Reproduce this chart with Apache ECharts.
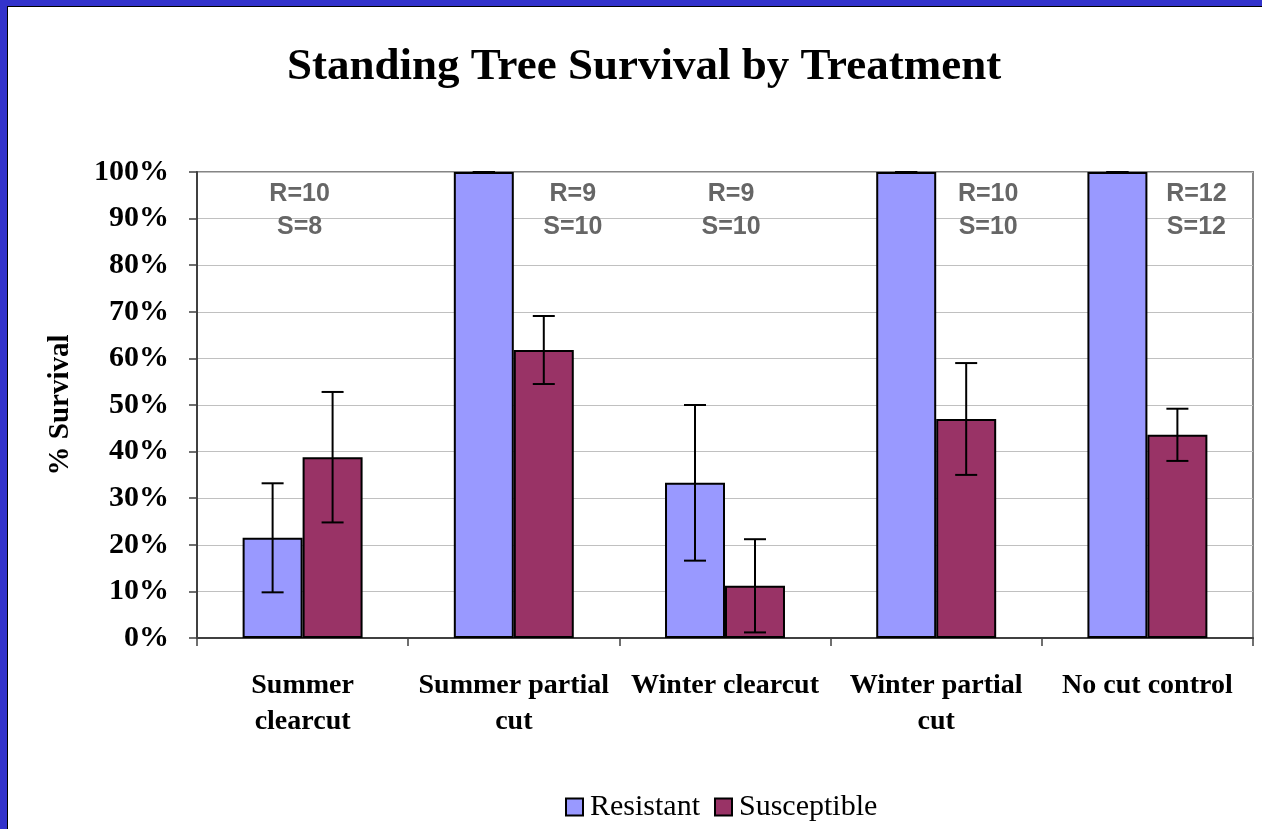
<!DOCTYPE html>
<html>
<head>
<meta charset="utf-8">
<script src="https://cdn.jsdelivr.net/npm/echarts@6/dist/echarts.min.js"></script>
<style>
  html, body { margin: 0; padding: 0; background: #3333CC; width: 1262px; height: 829px; overflow: hidden; }
  #chart { position: absolute; left: 7px; top: 6px; width: 1254px; height: 822px; background: #fff; border-left: 1px solid #000; border-top: 1px solid #000; }
</style>
</head>
<body>
<div id="chart"></div>
<script>
// ---- data ----
const categories = ['Summer\nclearcut', 'Summer partial\ncut', 'Winter clearcut', 'Winter partial\ncut', 'No cut control'];
const resistant = [21.5, 100, 33.3, 100, 100];
const resistantErr = [11.7, 0, 16.7, 0, 0];
const susceptible = [38.8, 61.8, 11.2, 47.0, 43.6];
const susceptibleErr = [14.0, 7.3, 10.0, 12.0, 5.6];
const sampleR = [10, 9, 9, 10, 12];
const sampleS = [8, 10, 10, 10, 12];
const yTicks = [0, 10, 20, 30, 40, 50, 60, 70, 80, 90, 100];

// ---- layout ----
const BAR_FRAC = 0.284;              // bar width as fraction of category band
const ANN_Y = 91.8;                  // annotation anchor (value units)
const ANN_DX = [-3, 59, 6, 52, 49];  // annotation horizontal offsets (px)

const chart = echarts.init(document.getElementById('chart'));

function errRenderer(side) {
  return function (params, api) {
    const x = api.value(0), v = api.value(1), e = api.value(2);
    const band = api.size([1, 0])[0];
    const bw = band * BAR_FRAC;
    const off = side * bw / 2;
    const top = api.coord([x, v + e]);
    const bot = api.coord([x, v - e]);
    const cx = top[0] + off;
    const cap = 11;
    const st = { stroke: '#000', lineWidth: 2 };
    return {
      type: 'group',
      children: [
        { type: 'line', shape: { x1: cx, y1: top[1], x2: cx, y2: bot[1] }, style: st },
        { type: 'line', shape: { x1: cx - cap, y1: top[1], x2: cx + cap, y2: top[1] }, style: st },
        { type: 'line', shape: { x1: cx - cap, y1: bot[1], x2: cx + cap, y2: bot[1] }, style: st }
      ]
    };
  };
}

const serif = 'Liberation Serif, Times New Roman, serif';

chart.setOption({
  animation: false,
  backgroundColor: '#fff',
  title: {
    text: 'Standing Tree Survival by Treatment',
    left: 274,
    top: 33,
    textStyle: { fontFamily: serif, fontWeight: 'bold', fontSize: 45, color: '#000' }
  },
  legend: {
    data: ['Resistant', 'Susceptible'],
    left: 552,
    top: 780,
    icon: 'rect',
    itemWidth: 17,
    itemHeight: 17,
    itemGap: 14,
    itemStyle: { borderColor: '#000', borderWidth: 2 },
    textStyle: { fontFamily: serif, fontSize: 30, color: '#000', padding: [0, 0, 0, 2] }
  },
  grid: {
    left: 189, right: 9, top: 165, bottom: 191,
    show: true, borderColor: '#858585', borderWidth: 2, backgroundColor: 'transparent'
  },
  xAxis: {
    type: 'category',
    data: categories,
    axisLine: { lineStyle: { color: '#404040', width: 2 } },
    axisTick: { show: true, length: 8, lineStyle: { color: '#404040', width: 1.5 } },
    axisLabel: {
      interval: 0, margin: 30, color: '#000',
      fontFamily: serif, fontWeight: 'bold', fontSize: 28, lineHeight: 36
    }
  },
  yAxis: {
    type: 'value',
    min: 0, max: 100, interval: 10,
    name: '% Survival',
    nameLocation: 'middle',
    nameGap: 122,
    nameRotate: 90,
    nameTextStyle: { fontFamily: serif, fontWeight: 'bold', fontSize: 29, color: '#000' },
    axisLine: { show: true, lineStyle: { color: '#404040', width: 2 } },
    axisTick: { show: true, length: 8, lineStyle: { color: '#404040', width: 1.5 } },
    splitLine: { show: true, lineStyle: { color: '#C0C0C0', width: 1 } },
    axisLabel: {
      margin: 28, color: '#000',
      fontFamily: serif, fontWeight: 'bold', fontSize: 30,
      formatter: function (v) { return yTicks.indexOf(v) >= 0 ? v + '%' : ''; }
    }
  },
  series: [
    {
      name: 'Resistant', type: 'bar', data: resistant,
      barWidth: (BAR_FRAC * 100) + '%', barGap: '0%',
      itemStyle: { color: '#9999FF', borderColor: '#000', borderWidth: 2 }
    },
    {
      name: 'Susceptible', type: 'bar', data: susceptible,
      barWidth: (BAR_FRAC * 100) + '%', barGap: '0%',
      itemStyle: { color: '#993366', borderColor: '#000', borderWidth: 2 }
    },
    {
      name: 'errR', type: 'custom', z: 5,
      renderItem: errRenderer(-1),
      encode: { x: 0, y: 1 },
      data: resistant.map((v, i) => [i, v, resistantErr[i]])
    },
    {
      name: 'errS', type: 'custom', z: 5,
      renderItem: errRenderer(1),
      encode: { x: 0, y: 1 },
      data: susceptible.map((v, i) => [i, v, susceptibleErr[i]])
    },
    {
      name: 'n', type: 'scatter', symbolSize: 0, z: 6,
      itemStyle: { color: '#666', opacity: 1 },
      data: categories.map((c, i) => ({
        value: [i, ANN_Y],
        label: { offset: [ANN_DX[i], 0] }
      })),
      label: {
        show: true, position: 'inside',
        fontFamily: 'Liberation Sans, Arial, sans-serif', fontWeight: 'bold',
        fontSize: 25, lineHeight: 33, color: '#666666', align: 'center',
        textBorderWidth: 0, textShadowBlur: 0, opacity: 1,
        formatter: function (p) { return 'R=' + sampleR[p.dataIndex] + '\nS=' + sampleS[p.dataIndex]; }
      }
    }
  ]
});
</script>
</body>
</html>
